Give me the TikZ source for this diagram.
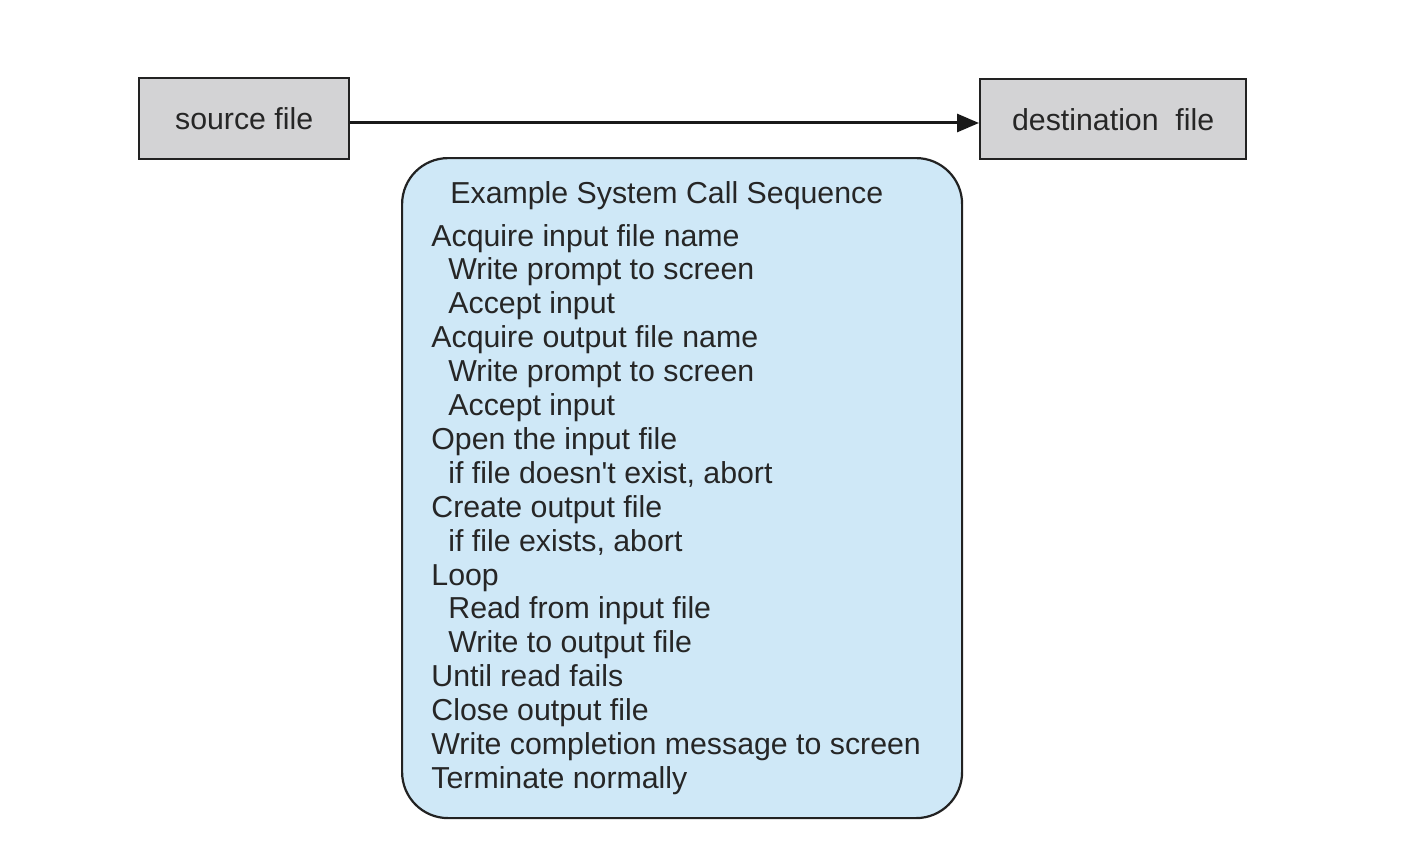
\documentclass[tikz,border=0pt]{standalone}
\usepackage{fontspec}
\setmainfont{Liberation Sans}
\usetikzlibrary{arrows.meta}
\definecolor{boxgray}{HTML}{D3D3D5}
\definecolor{boxblue}{HTML}{CFE8F7}
\definecolor{edge}{HTML}{222222}
\newcommand{\subind}{\hspace*{8.5pt}}
\tikzset{
  filebox/.style={draw=edge, line width=1.2pt, fill=boxgray, inner sep=0pt},
  seqbox/.style={draw=edge, line width=1.1pt, fill=boxblue, rounded corners=23pt, inner sep=0pt},
  seqline/.style={anchor=base west, inner sep=0pt, font=\fontsize{15.15}{17}\selectfont, text=black!85},
  filetext/.style={font=\fontsize{15.15}{17}\selectfont, text=black!85},
  flow/.style={draw=black!90, line width=1.5pt, -{Triangle[length=11pt,width=9pt]}}
}
\begin{document}
\begin{tikzpicture}[x=0.5pt,y=-0.5pt]
\useasboundingbox (0,0) rectangle (1424,856);
\fill[white] (0,0) rectangle (1424,856);
% file boxes
\node[filebox, minimum width=105pt, minimum height=40.5pt, anchor=north west] (src) at (138,77) {};
\node[filetext] (srct) at (src.center) {source file};
\node[filebox, minimum width=133pt, minimum height=40pt, anchor=north west] (dst) at (979,78) {};
\node[filetext] (dstt) at (dst.center) {destination\ \ file};
\draw[flow] (src.east |- 0,123) -- (dst.west |- 0,123);
% sequence box
\node[seqbox, minimum width=280pt, minimum height=330pt, anchor=north west] (seq) at (401,157) {};
\node[seqline] (title) at (450,203) {Example System Call Sequence};
\foreach \t [count=\i] in {
  {Acquire input file name},
  {\subind Write prompt to screen},
  {\subind Accept input},
  {Acquire output file name},
  {\subind Write prompt to screen},
  {\subind Accept input},
  {Open the input file},
  {\subind if file doesn\textquotesingle t exist, abort},
  {Create output file},
  {\subind if file exists, abort},
  {Loop},
  {\subind Read from input file},
  {\subind Write to output file},
  {Until read fails},
  {Close output file},
  {Write completion message to screen},
  {Terminate normally}}
  \node[seqline] (l\i) at (431,{246+33.9*(\i-1)}) {\t};
\end{tikzpicture}
\end{document}
